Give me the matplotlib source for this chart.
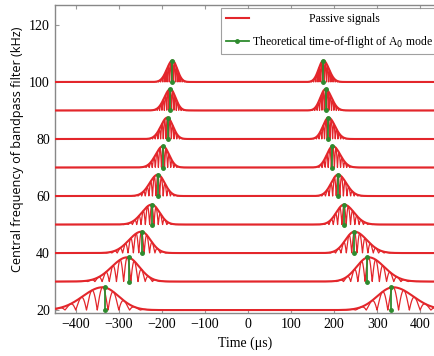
import numpy as np
import matplotlib.pyplot as plt
from matplotlib.lines import Line2D

# bandpass centre frequencies (kHz) and packet parameters
freqs = [20, 30, 40, 50, 60, 70, 80, 90, 100]
tof = [332, 277, 245, 222, 208, 196, 186, 180, 175]          # theoretical A0 time-of-flight (us)
env_center = [337, 280, 247, 223, 209, 197, 187, 180, 175]   # envelope peak (us)
sigma_in = [37, 28, 21, 18, 16, 14, 13, 12, 11]              # envelope width toward t=0
sigma_out = [46, 36, 29, 23, 19, 17, 15, 14, 13]             # envelope width away from t=0
amp = [8.0, 8.5, 7.5, 7.0, 7.5, 7.5, 7.5, 7.5, 7.5]
marker_h = [8.0, 8.5, 7.5, 7.0, 7.5, 7.5, 7.5, 7.5, 7.5]

RED = '#e3262b'
GREEN = '#2e8b2e'
SERIF = 'Liberation Serif'

t = np.arange(-450, 440, 0.1)

fig = plt.figure(figsize=(4.35, 3.56), dpi=100)
ax = fig.add_axes([0.126, 0.121, 0.876, 0.865])

for f, tc, ec, si, so, a, mh in zip(freqs, tof, env_center, sigma_in, sigma_out, amp, marker_h):
    env = np.zeros_like(t)
    for side in (-1, 1):
        c = side * ec
        d = t - c
        outward = (d * side) > 0
        s = np.where(outward, so, si)
        env += a * np.exp(-0.5 * (d / s) ** 2)
    sig = env * np.abs(np.cos(2 * np.pi * f * 1e-3 * (t - np.sign(t) * ec)))
    ax.plot(t, f + sig, color=RED, lw=0.9, zorder=2)
    ax.plot(t, f + env, color=RED, lw=1.5, zorder=3)
    for side in (-1, 1):
        ax.plot([side * tc, side * tc], [f, f + mh], color=GREEN, lw=1.3,
                marker='o', ms=2.5, zorder=4)

ax.set_xlim(-448, 436)
ax.set_ylim(19, 127)
ax.set_xticks(range(-400, 401, 100))
ax.set_yticks(range(20, 121, 20))
ax.tick_params(direction='in', top=True, length=3, color='#999999', labelsize=10)
for lab in ax.get_xticklabels() + ax.get_yticklabels():
    lab.set_family(SERIF)
for sp in ax.spines.values():
    sp.set_color('#888888')
    sp.set_linewidth(1.0)

ax.set_xlabel('Time (μs)', family=SERIF, fontsize=10)
ax.set_ylabel('Central frequency of bandpass filter (kHz)', family='Open Sans', fontsize=9.1)
ax.yaxis.set_label_coords(-0.082, 0.53)

handles = [Line2D([], [], color=RED, lw=1.5),
           Line2D([], [], color=GREEN, lw=1.3, marker='o', ms=2.5)]
labels = [' ' * 19 + 'Passive signals', 'Theoretical time-of-flight of A$_0$ mode']
leg = ax.legend(handles, labels, loc='upper right', bbox_to_anchor=(1.005, 0.99),
                fancybox=False, edgecolor='#888888',
                prop={'family': SERIF, 'size': 8.5}, borderaxespad=0,
                handlelength=1.95, handletextpad=0.3, labelspacing=0.75)
leg.get_frame().set_linewidth(0.8)

fig.savefig('out.png', dpi=100)
